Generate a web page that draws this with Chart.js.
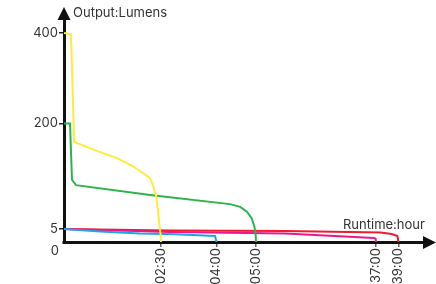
<!DOCTYPE html>
<html><head><meta charset="utf-8">
<script src="https://cdn.jsdelivr.net/npm/chart.js@4/dist/chart.umd.min.js"></script>
<style>html,body{margin:0;padding:0;background:#fff}#wrap{width:436px;height:284px;position:relative}</style>
</head><body><div id="wrap"><canvas id="c"></canvas></div>
<script>
// Piecewise axis breaks (value -> position along axis)
const xKnotHours = [0, 2.5, 4, 5, 37, 39];
const xKnotPos   = [0, 97, 152.5, 192, 312, 334.5];
const yKnotLumens = [0, 5, 200, 400];
const yKnotPos    = [0, 13, 118.5, 209];

// Tick labels
const xTickHours  = [2.5, 4, 5, 37, 39];
const xTickLabels = ['02:30', '04:00', '05:00', '37:00', '39:00'];
const yTickLumens = [5, 200, 400];
const yTickLabels = ['5', '200', '400'];

// Series (hours, lumens)
const yellowHours  = [0, 0.18, 0.26, 0.93, 1.37, 1.78, 2.04, 2.22, 2.29, 2.37, 2.42, 2.46, 2.49, 2.5];
const yellowLumens = [400, 397, 166, 147, 136, 121, 108, 99, 86, 68, 40, 12, 2.7, 0];
const greenHours   = [0, 0.155, 0.206, 0.31, 2.22, 4.34, 4.6, 4.77, 4.89, 4.96, 4.99, 5];
const greenLumens  = [200, 200, 96, 86, 68, 51, 46, 37, 25, 9.3, 3, 0];
const cyanHours    = [0, 0.93, 1.96, 2.88, 3.96, 4];
const cyanLumens   = [5, 4.04, 3.27, 2.96, 2.31, 0];
const pinkHours    = [0, 2.74, 12.7, 36.5, 36.9, 37];
const pinkLumens   = [5, 3.85, 3.27, 1.54, 1.2, 0];
const redHours     = [0, 2.74, 12.7, 37.4, 38.4, 38.9, 39];
const redLumens    = [5, 4.42, 4.23, 3.65, 3.08, 2.31, 0];

function interp(v, from, to) {
  for (let i = 0; i < from.length - 1; i++) {
    if (v <= from[i + 1] || i === from.length - 2) {
      const t = (v - from[i]) / (from[i + 1] - from[i]);
      return to[i] + t * (to[i + 1] - to[i]);
    }
  }
  return to[to.length - 1];
}
const tx = h => interp(h, xKnotHours, xKnotPos);
const ty = l => interp(l, yKnotLumens, yKnotPos);
const pts = (hs, ls) => hs.map((h, i) => ({x: tx(h), y: ty(ls[i])}));

const FONT = 'Inter, "DejaVu Sans", sans-serif';
const TEXT = '#333';

const decor = {
  id: 'decor',
  afterDraw(chart) {
    const ctx = chart.ctx, a = chart.chartArea;
    ctx.save();
    ctx.fillStyle = '#111';
    // corner fill
    ctx.fillRect(a.left - 1.5, a.bottom - 1, 3, 3);
    // y arrow
    ctx.beginPath();
    ctx.moveTo(a.left, 7);
    ctx.lineTo(a.left - 6.5, a.top);
    ctx.lineTo(a.left + 6.5, a.top);
    ctx.closePath(); ctx.fill();
    // x arrow
    ctx.beginPath();
    ctx.moveTo(436, a.bottom + 0.5);
    ctx.lineTo(a.right - 2, a.bottom - 6);
    ctx.lineTo(a.right - 2, a.bottom + 7);
    ctx.closePath(); ctx.fill();
    ctx.fillStyle = TEXT;
    ctx.font = '13px ' + FONT;
    ctx.textBaseline = 'middle';
    ctx.textAlign = 'left';
    ctx.fillText('Output:Lumens', 73, 13);
    ctx.fillText('Runtime:hour', 343, 225);
    ctx.textAlign = 'right';
    ctx.fillText('0', 59, 251);
    ctx.restore();
  }
};

new Chart(document.getElementById('c'), {
  type: 'line',
  data: {
    datasets: [
      {data: pts(yellowHours, yellowLumens), borderColor: '#fcec3c'},
      {data: pts(greenHours, greenLumens), borderColor: '#2db34e'},
      {data: pts(cyanHours, cyanLumens), borderColor: '#1fa6e0'},
      {data: pts(pinkHours, pinkLumens), borderColor: '#e8198b'},
      {data: pts(redHours, redLumens), borderColor: '#ee1c2e'}
    ]
  },
  options: {
    responsive: true,
    maintainAspectRatio: false,
    animation: false,
    devicePixelRatio: 1,
    layout: {padding: {top: 20, right: 11, left: 0, bottom: 0}},
    plugins: {legend: {display: false}, tooltip: {enabled: false}},
    elements: {point: {radius: 0}, line: {borderWidth: 2, tension: 0, fill: false}},
    scales: {
      x: {
        type: 'linear', min: 0, max: 361,
        border: {display: true, color: '#111', width: 3},
        grid: {drawOnChartArea: false, drawTicks: true, tickLength: 5, color: '#666', lineWidth: 1.5},
        ticks: {autoSkip: false, minRotation: 90, maxRotation: 90, padding: 1, color: TEXT,
                font: {family: FONT, size: 13},
                callback: (v, i) => xTickLabels[i]},
        afterBuildTicks: s => { s.ticks = xTickHours.map(h => ({value: tx(h)})); },
        afterFit: s => { s.height = 42; }
      },
      y: {
        type: 'linear', min: 0, max: 222,
        border: {display: true, color: '#111', width: 3},
        grid: {drawOnChartArea: false, drawTicks: true, tickLength: 5, color: '#222', lineWidth: 1.5},
        ticks: {autoSkip: false, padding: 1, color: TEXT, font: {family: FONT, size: 13},
                callback: (v, i) => yTickLabels[i]},
        afterBuildTicks: s => { s.ticks = yTickLumens.map(l => ({value: ty(l)})); },
        afterFit: s => { s.width = 64; }
      }
    }
  },
  plugins: [decor]
});
</script>
</body></html>
